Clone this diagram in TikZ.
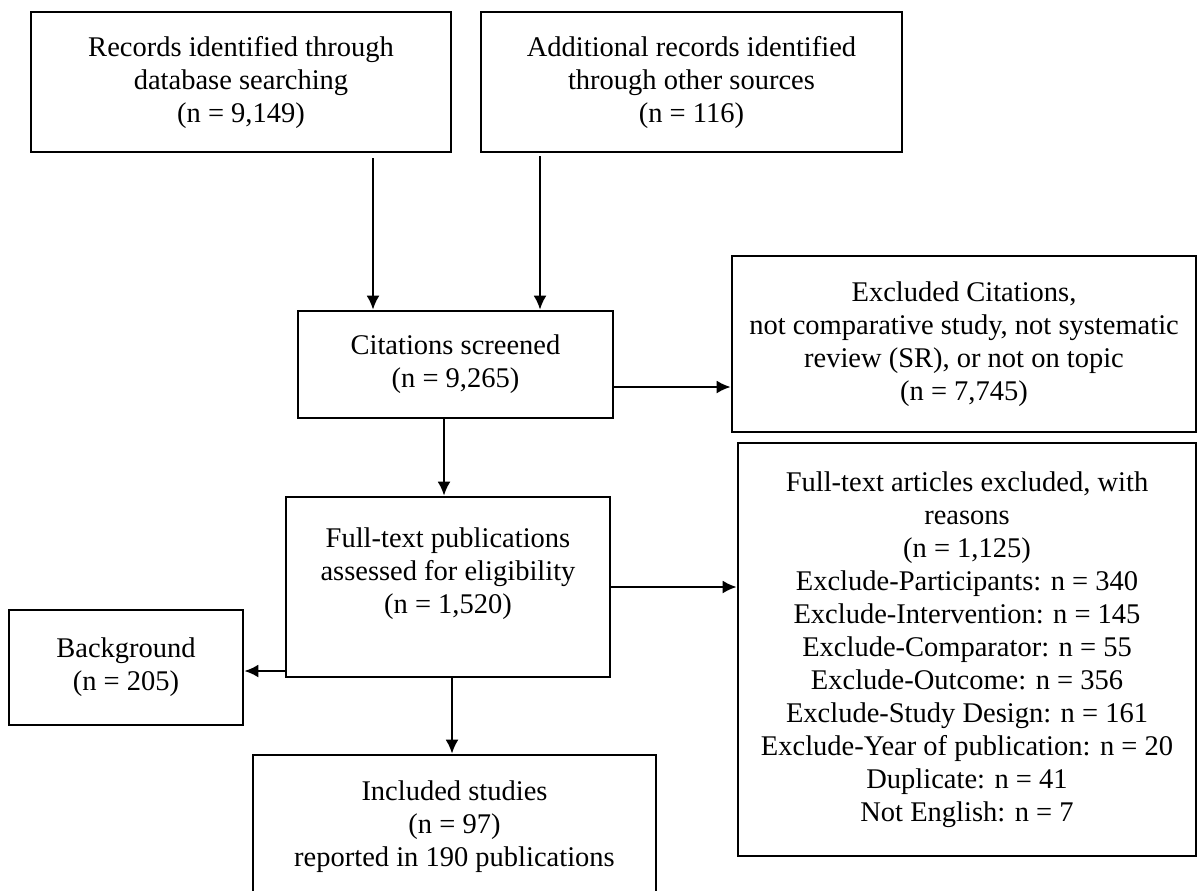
\documentclass[tikz,border=0pt]{standalone}
\usepackage{fontspec}
\setmainfont{Liberation Serif}
\usetikzlibrary{arrows.meta}

\begin{document}
\begin{tikzpicture}[x=1pt,y=-1pt,
		box/.style={draw, line width=2.6pt, align=center, inner sep=0pt, font=\fontsize{28.5}{33}\selectfont},
		arr/.style={line width=2.4pt, -{Latex[length=14pt,width=13pt]}}]
		
		\useasboundingbox (0,0) rectangle (1199,891);
		
		%Identification
		\node[box, minimum width=420pt, minimum height=140pt] (records) at (241,82) 
		{Records identified through\\database searching\\(n = 9,149)};
		
		\node[box, minimum width=421pt, minimum height=140pt] (additional) at (691.5,82) 
		{Additional records identified\\through other sources\\(n = 116)};
		
		%Screening
		\node[box, minimum width=315pt, minimum height=107pt] (screened) at (455.5,364.5) 
		{Citations screened\\(n = 9,265)};
		
		\node[box, minimum width=464pt, minimum height=176pt] (exclcit) at (964,344) 
		{Excluded Citations,\\not comparative study, not systematic\\review (SR), or not on topic\\(n = 7,745)};
		
		%Eligibility
		\node[box, minimum width=324pt, minimum height=180pt] (fulltext) at (448,587) 
		{Full-text publications\\assessed for eligibility\\(n = 1,520)\\~};
		
		\node[box, minimum width=458pt, minimum height=413pt] (exclfull) at (967,649.5) 
		{Full-text articles excluded, with\\reasons\\(n = 1,125)\\Exclude-Participants: n = 340\\
			Exclude-Intervention: n = 145\\Exclude-Comparator: n = 55\\Exclude-Outcome: n = 356\\
			Exclude-Study Design: n = 161\\Exclude-Year of publication: n = 20\\Duplicate: n = 41\\
			Not English: n = 7};
		
		\node[box, minimum width=234pt, minimum height=115pt] (background) at (126,667.5) 
		{Background\\(n = 205)};
		
		%Included
		\node[box, minimum width=403pt, minimum height=143pt] (included) at (454.5,826.5) 
		{Included studies\\(n = 97)\\reported in 190 publications};
		
		%Arrows
		\draw[arr] ([xshift=132pt,yshift=-5pt]records.south) -- ([xshift=132pt]records.south |- screened.north);
		
		\draw[arr] ([xshift=-151.5pt,yshift=-3pt]additional.south) -- ([xshift=-151.5pt]additional.south |- screened.north);
		
		\draw[arr] ([yshift=-22.5pt]screened.east) -- ([yshift=-22.5pt]screened.east -| exclcit.west);
		
		\draw[arr] ([xshift=-11.5pt]screened.south) -- ([xshift=-11.5pt]screened.south |- fulltext.north);
		
		\draw[arr] (fulltext.east) -- (fulltext.east -| exclfull.west);
		
		\draw[arr] ([yshift=-84pt]fulltext.west) -- ([yshift=-84pt]fulltext.west -| background.east);
		
		\draw[arr] ([xshift=4pt]fulltext.south) -- ([xshift=4pt]fulltext.south |- included.north);
		
\end{tikzpicture}
\end{document}
